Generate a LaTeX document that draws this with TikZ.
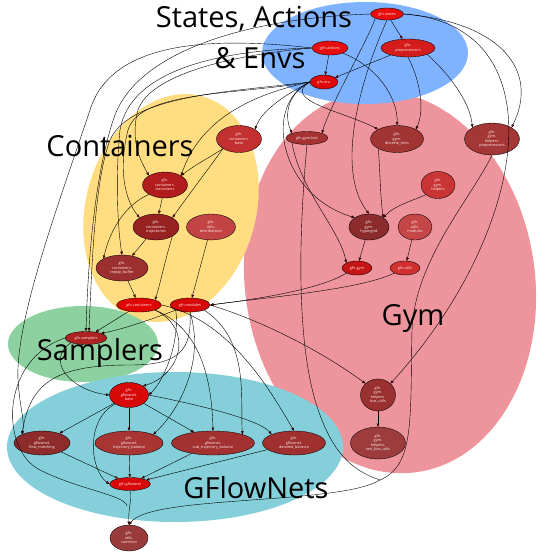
\documentclass[tikz,border=0pt]{standalone}
\usepackage{fontspec}
\setmainfont{Open Sans}
\usetikzlibrary{shapes.geometric,arrows.meta}
\definecolor{zoneblue}{HTML}{80B3FF}
\definecolor{zoneyellow}{HTML}{FFDD80}
\definecolor{zonepink}{HTML}{EE949C}
\definecolor{zonegreen}{HTML}{8DD1A0}
\definecolor{zonecyan}{HTML}{84CFDA}
\definecolor{tipred}{HTML}{C00000}
\tikzset{
  mod/.style={ellipse, draw=black, line width=0.35pt, inner sep=0pt, text=white!92!red,
    align=center, font=\fontsize{3.8}{4.5}\selectfont},
  dep/.style={draw=black, line width=0.4pt, -{Triangle[length=3.2pt,width=2.6pt,fill=tipred]}},
  link/.style={draw=black, line width=0.4pt},
  zonetext/.style={font=\fontsize{29}{30}\selectfont, inner sep=0pt},
}
\begin{document}
\begin{tikzpicture}[x=1pt,y=-1pt]
\useasboundingbox (0,0) rectangle (540,558);
% zones
\fill[zonepink, rotate around={8:(390,282)}] (390,282) ellipse [x radius=145pt, y radius=192pt];
\fill[zoneyellow, rotate around={-16:(171,208)}] (171,208) ellipse [x radius=85pt, y radius=116pt];
\fill[zoneblue] (365,53) ellipse [x radius=103pt, y radius=51pt];
\fill[zonegreen] (83,344) ellipse [x radius=75pt, y radius=38pt];
\fill[zonecyan] (175,447) ellipse [x radius=168pt, y radius=75pt];
\node[zonetext] (lblsa) at (254,19) {States, Actions};
\node[zonetext] (lblenv) at (260,58) {\& Envs};
\node[zonetext] (lblcont) at (120,146) {Containers};
\node[zonetext] (lblgym) at (413,318) {Gym};
\node[zonetext] (lblsamp) at (100,353) {Samplers};
\node[zonetext] (lblgfn) at (256,488) {GFlowNets};

% modules
\node[mod, fill={rgb,255:red,232;green,14;blue,14}, minimum width=33pt, minimum height=12pt] (states) at (387,14) {gfn.states};
\node[mod, fill={rgb,255:red,232;green,14;blue,14}, minimum width=36pt, minimum height=14pt] (actions) at (330,48) {gfn.actions};
\node[mod, fill={rgb,255:red,212;green,28;blue,28}, minimum width=54pt, minimum height=18pt] (preproc) at (408,48) {gfn.\\preprocessors};
\node[mod, fill={rgb,255:red,221;green,10;blue,10}, minimum width=28pt, minimum height=14pt] (env) at (324,82) {gfn.env};
\node[mod, fill={rgb,255:red,194;green,48;blue,48}, minimum width=45pt, minimum height=27pt] (cbase) at (239,139) {gfn.\\containers.\\base};
\node[mod, fill={rgb,255:red,166;green,50;blue,50}, minimum width=42pt, minimum height=13pt] (gymbox) at (307,138) {gfn.gym.box};
\node[mod, fill={rgb,255:red,163;green,52;blue,52}, minimum width=53pt, minimum height=27pt] (discrete) at (397,139) {gfn.\\gym.\\discrete\_envs};
\node[mod, fill={rgb,255:red,165;green,54;blue,54}, minimum width=55pt, minimum height=32pt] (hpreproc) at (492,139) {gfn.\\gym.\\helpers.\\preprocessors};
\node[mod, fill={rgb,255:red,201;green,53;blue,53}, minimum width=34pt, minimum height=27pt] (ghelpers) at (438,185) {gfn.\\gym.\\helpers};
\node[mod, fill={rgb,255:red,178;green,28;blue,28}, minimum width=45pt, minimum height=26pt] (transitions) at (165,185) {gfn.\\containers.\\transitions};
\node[mod, fill={rgb,255:red,152;green,34;blue,34}, minimum width=46pt, minimum height=26pt] (trajectories) at (156,227) {gfn.\\containers.\\trajectories};
\node[mod, fill={rgb,255:red,195;green,68;blue,68}, minimum width=49pt, minimum height=26pt] (distributions) at (211,227) {gfn.\\utils.\\distributions};
\node[mod, fill={rgb,255:red,140;green,43;blue,43}, minimum width=40pt, minimum height=26pt] (hypergrid) at (369,227) {gfn.\\gym.\\hypergrid};
\node[mod, fill={rgb,255:red,196;green,70;blue,70}, minimum width=34pt, minimum height=26pt] (umodules) at (415,227) {gfn.\\utils.\\modules};
\node[mod, fill={rgb,255:red,198;green,21;blue,21}, minimum width=30pt, minimum height=14pt] (gym) at (357,268) {gfn.gym};
\node[mod, fill={rgb,255:red,208;green,48;blue,48}, minimum width=30pt, minimum height=14pt] (utils) at (405,268) {gfn.utils};
\node[mod, fill={rgb,255:red,156;green,47;blue,47}, minimum width=52pt, minimum height=26pt] (replay) at (122,268) {gfn.\\containers.\\replay\_buffer};
\node[mod, fill={rgb,255:red,224;green,4;blue,4}, minimum width=45pt, minimum height=14pt] (containers) at (139,305) {gfn.containers};
\node[mod, fill={rgb,255:red,216;green,8;blue,8}, minimum width=40pt, minimum height=14pt] (modules) at (190,305) {gfn.modules};
\node[mod, fill={rgb,255:red,173;green,35;blue,35}, minimum width=42pt, minimum height=13pt] (samplers) at (86,338) {gfn.samplers};
\node[mod, fill={rgb,255:red,216;green,8;blue,8}, minimum width=39pt, minimum height=25pt] (gbase) at (129,395) {gfn.\\gflownet.\\base};
\node[mod, fill={rgb,255:red,142;green,44;blue,44}, minimum width=56pt, minimum height=24pt] (fm) at (42,443) {gfn.\\gflownet.\\flow\_matching};
\node[mod, fill={rgb,255:red,168;green,52;blue,52}, minimum width=68pt, minimum height=24pt] (tb) at (129,443) {gfn.\\gflownet.\\trajectory\_balance};
\node[mod, fill={rgb,255:red,163;green,49;blue,49}, minimum width=83pt, minimum height=24pt] (stb) at (213,443) {gfn.\\gflownet.\\sub\_trajectory\_balance};
\node[mod, fill={rgb,255:red,160;green,47;blue,47}, minimum width=63pt, minimum height=24pt] (db) at (294,443) {gfn.\\gflownet.\\detailed\_balance};
\node[mod, fill={rgb,255:red,216;green,8;blue,8}, minimum width=41pt, minimum height=13pt] (gflownet) at (130,484) {gfn.gflownet};
\node[mod, fill={rgb,255:red,154;green,48;blue,48}, minimum width=35pt, minimum height=32pt] (boxutils) at (378,395) {gfn.\\gym.\\helpers.\\box\_utils};
\node[mod, fill={rgb,255:red,156;green,60;blue,60}, minimum width=55pt, minimum height=32pt] (testbox) at (378,443) {gfn.\\gym.\\helpers.\\test\_box\_utils};
\node[mod, fill={rgb,255:red,154;green,59;blue,59}, minimum width=38pt, minimum height=26pt] (common) at (129,538) {gfn.\\utils.\\common};
\coordinate (mergeR) at (380,480);
\coordinate (mergeL) at (127,506);

% imports, top
\draw[dep] (states) -- (preproc);
\draw[dep] (actions) -- (env);
\draw[dep] (preproc) -- (env);
\draw[dep] (states.south west) .. controls (368,40) and (330,105) .. (gymbox.north east);
\draw[dep] (states.east) .. controls (500,22) and (540,70) .. (hpreproc.north east);
\draw[dep] (preproc.south east) .. controls (445,70) and (470,100) .. (hpreproc.north west);
\draw[dep] (actions.south east) .. controls (380,68) and (398,100) .. (discrete.north);
\draw[dep] (preproc.south) .. controls (420,80) and (425,110) .. (discrete.north east);
\draw[dep] (env.west) .. controls (285,95) and (262,110) .. (cbase.north east);
\draw[dep] (env.west) .. controls (285,95) and (285,118) .. (gymbox.north west);
\draw[dep] (env.west) .. controls (280,100) and (345,112) .. (discrete.north west);
\draw[dep] (env.west) .. controls (262,105) and (280,195) .. (hypergrid.north west);
\draw[dep] (states.south) .. controls (360,80) and (335,170) .. (hypergrid.north);
\draw[dep] (discrete.south west) .. controls (380,165) and (380,195) .. (hypergrid.north east);
\draw[dep] (ghelpers.south west) .. controls (415,200) and (395,205) .. (hypergrid.north east);
\draw[dep] (states.east) .. controls (560,25) and (530,230) .. (boxutils.north east);
% gym
\draw[dep] (gymbox.south west) .. controls (300,190) and (340,230) .. (gym.north west);
\draw[dep] (hypergrid) -- (gym);
\draw[dep] (umodules) -- (utils);
\draw[dep] (gym.south west) .. controls (320,290) and (250,300) .. (modules.east);
\draw[dep] (utils.south west) .. controls (360,290) and (260,298) .. (modules.east);
\draw[dep] (modules.east) .. controls (260,320) and (320,350) .. (boxutils.north west);
\draw[dep] (boxutils) -- (testbox);
\draw[link] (gymbox.south) .. controls (300,220) and (295,330) .. (315,400) .. controls (330,450) and (350,470) .. (mergeR);
\draw[dep] (hpreproc.south) .. controls (470,200) and (415,260) .. (412,330) .. controls (410,420) and (415,465) .. (mergeR) .. controls (340,505) and (150,495) .. (common.north);
% containers
\draw[dep] (states.west) .. controls (250,18) and (140,50) .. (115,115) .. controls (95,170) and (88,260) .. (samplers.north);
\draw[dep] (actions.west) .. controls (230,55) and (150,75) .. (138,110) .. controls (130,140) and (140,160) .. (transitions.north west);
\draw[dep] (env.west) .. controls (250,95) and (200,120) .. (transitions.north east);
\draw[dep] (cbase.south west) .. controls (205,160) and (195,165) .. (transitions.north east);
\draw[dep] (cbase.south west) .. controls (200,180) and (185,200) .. (trajectories.north east);
\draw[dep] (transitions) -- (trajectories);
\draw[dep] (env.west) .. controls (240,95) and (140,90) .. (128,130) .. controls (118,170) and (125,200) .. (trajectories.north west);
\draw[dep] (transitions.south west) .. controls (125,205) and (110,230) .. (replay.north west);
\draw[dep] (trajectories) -- (replay);
\draw[dep] (actions.west) .. controls (220,50) and (130,70) .. (120,130) .. controls (115,180) and (118,230) .. (replay.north);
\draw[dep] (replay) -- (containers);
\draw[dep] (trajectories.south east) .. controls (165,260) and (160,285) .. (containers.north east);
\draw[dep] (distributions) -- (modules);
% samplers and gflownets
\draw[dep] (env.west) .. controls (230,92) and (130,95) .. (110,140) .. controls (95,180) and (92,260) .. ([xshift=3pt]samplers.north);
\draw[dep] (containers) -- (samplers);
\draw[dep] (modules.south west) .. controls (150,320) and (120,330) .. (samplers.north east);
\draw[dep] (samplers.south west) .. controls (45,360) and (70,390) .. (gbase.west);
\draw[dep] (containers.south east) .. controls (195,330) and (180,375) .. (gbase.north east);
\draw[dep] (modules.south west) .. controls (180,340) and (165,380) .. (gbase.east);
\draw[dep] (gbase) -- (fm);
\draw[dep] (gbase) -- (tb);
\draw[dep] (gbase) -- (stb);
\draw[dep] (gbase.east) .. controls (200,405) and (260,420) .. (db.north west);
\draw[dep] (actions.west) .. controls (200,35) and (110,45) .. (90,110) .. controls (60,200) and (15,320) .. (18,380) .. controls (20,410) and (25,420) .. (fm.north west);
\draw[dep] (modules.south) .. controls (192,350) and (180,365) .. (130,365) .. controls (60,365) and (30,380) .. (fm.north west);
\draw[dep] (modules.south) .. controls (205,360) and (180,410) .. (tb.north east);
\draw[dep] (containers.south east) .. controls (205,330) and (212,390) .. (stb.north);
\draw[dep] (modules.south east) .. controls (250,340) and (240,400) .. (stb.north east);
\draw[dep] (containers.east) .. controls (230,320) and (270,390) .. (db.north);
\draw[dep] (fm) -- (gflownet);
\draw[dep] (tb) -- (gflownet);
\draw[dep] (stb) -- (gflownet);
\draw[dep] (db) -- (gflownet);
\draw[dep] (gbase.south west) .. controls (85,420) and (90,470) .. (gflownet.west);
\draw[dep] (gflownet.south) .. controls (132,500) and (128,510) .. (common.north);
\draw[link] (samplers.west) .. controls (0,360) and (0,450) .. (40,470) .. controls (80,490) and (125,495) .. (mergeL);
\end{tikzpicture}
\end{document}
